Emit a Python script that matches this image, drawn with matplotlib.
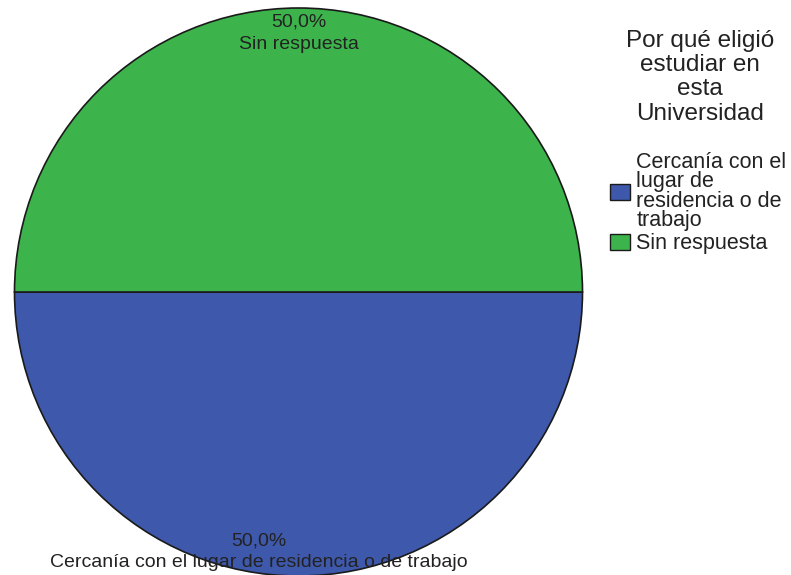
import matplotlib.pyplot as plt

categories = ["Cercanía con el lugar de residencia o de trabajo", "Sin respuesta"]
legend_labels = ["Cercanía con el\nlugar de\nresidencia o de\ntrabajo", "Sin respuesta"]
values = [50.0, 50.0]
colors = ["#3e58ac", "#3cb44b"]
legend_title = "Por qué eligió\nestudiar en\nesta\nUniversidad"

plt.rcParams['font.family'] = ['Liberation Sans', 'DejaVu Sans']

fig = plt.figure(figsize=(7.91, 5.75), dpi=100)
ax = fig.add_axes([14.5 / 791, -1 / 575, 568 / 791, 568 / 575])

wedges, _ = ax.pie(values, colors=colors, startangle=180, radius=1,
                   wedgeprops=dict(edgecolor="#1a1a1a", linewidth=1.2))
ax.set_xlim(-1, 1)
ax.set_ylim(-1, 1)
ax.set_aspect('equal')

# labels: value + category
pct = [f"{v:.1f}".replace(".", ",") + "%" for v in values]
ax.text(-0.14, -0.877, pct[0], ha='center', va='center', fontsize=14, color="#222222")
ax.text(-0.14, -0.954, categories[0], ha='center', va='center', fontsize=14, color="#222222")
ax.text(0.0, 0.952, pct[1], ha='center', va='center', fontsize=14, color="#222222")
ax.text(0.0, 0.872, categories[1], ha='center', va='center', fontsize=14, color="#222222")

# legend title drawn separately (centered over the entries)
fig.text(700 / 791, 1 - 30 / 575, legend_title, ha='center', va='top',
         fontsize=17.5, linespacing=1.13, color="#222222", multialignment='center')

leg = fig.legend(wedges, legend_labels, loc='upper left',
                 bbox_to_anchor=(610 / 791, 1 - 152 / 575), frameon=False,
                 fontsize=15.5, handlelength=0.93, handleheight=0.8,
                 handletextpad=0.3, labelspacing=0.1, borderpad=0, borderaxespad=0)
for t in leg.get_texts():
    t.set_linespacing(0.9)
    t.set_color("#222222")
for h in leg.legend_handles:
    h.set_edgecolor("#1a1a1a")
    h.set_linewidth(1.0)

plt.savefig("out.png", dpi=100)
